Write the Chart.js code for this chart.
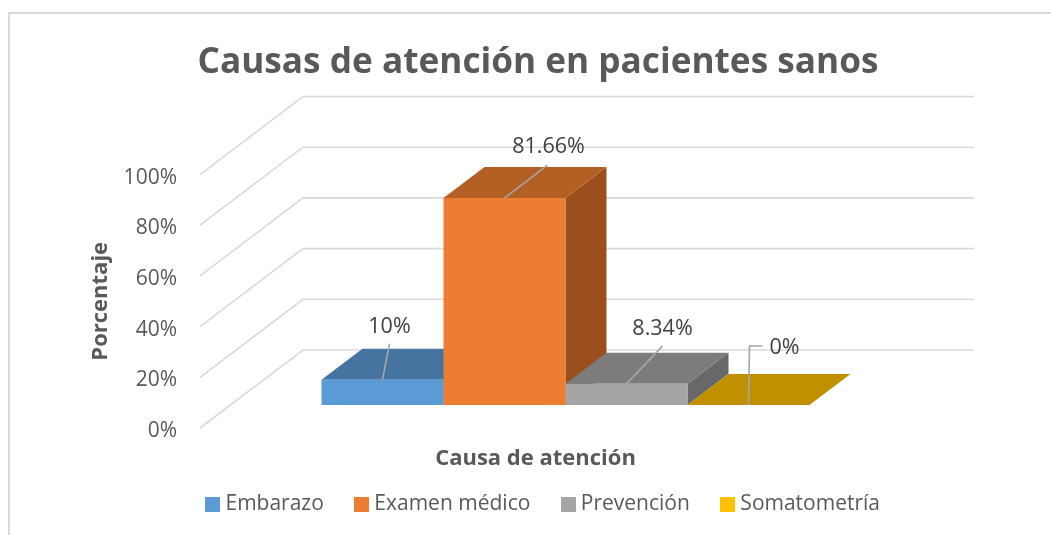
<!DOCTYPE html>
<html>
<head>
<meta charset="utf-8">
<script src="https://cdn.jsdelivr.net/npm/chart.js@4"></script>
<style>
html,body{margin:0;padding:0;background:#fff;overflow:hidden}
#wrap{position:relative;width:1051px;height:535px}
#frame{position:absolute;left:8px;top:12px;right:0;bottom:0;border-left:2px solid #d9d9d9;border-top:2px solid #d9d9d9;box-sizing:border-box;pointer-events:none}
canvas{position:absolute;left:0;top:0}
</style>
</head>
<body>
<div id="wrap"><div id="frame"></div><canvas id="c" width="1051" height="535"></canvas></div>
<script>
const categories = ['Causa de atención'];
const seriesNames = ['Embarazo', 'Examen médico', 'Prevención', 'Somatometría'];
const seriesValues = [10, 81.66, 8.34, 0];
const valueLabels = ['10%', '81.66%', '8.34%', '0%'];
const frontColors = ['#5B9BD5', '#ED7D31', '#A5A5A5', '#FFC000'];
const topColors = ['#44749F', '#B45F24', '#7C7C7C', '#C09000'];
const sideColors = ['#3A6186', '#9A4F1C', '#686868', '#A67C00'];
const yTicks = [0, 20, 40, 60, 80, 100];

const FONT = '"Open Sans", sans-serif';
const TEXT = '#595959';
const wall = {dx: 103, dy: -78};
const plane = {dx: 30, dy: -23};
const bar3d = {dx: 41, dy: -31};
// leader line bends and label centres, relative to the top-front-centre of each bar
const leaders = [
  {pts: [[7, -36]], label: [7, -53]},
  {pts: [[43, -33]], label: [44, -51]},
  {pts: [[36, -38]], label: [36, -55]},
  {pts: [[1, -59], [14, -59]], label: [36, -57]}
];

function poly(ctx, pts, color) {
  ctx.beginPath();
  pts.forEach((p, i) => i ? ctx.lineTo(p[0], p[1]) : ctx.moveTo(p[0], p[1]));
  ctx.closePath();
  ctx.fillStyle = color;
  ctx.fill();
}

function swatch(color) {
  const c = document.createElement('canvas');
  c.width = 15; c.height = 15;
  const g = c.getContext('2d');
  g.fillStyle = color;
  g.fillRect(0, 0, 15, 15);
  return c;
}

const scene3d = {
  id: 'scene3d',
  afterLayout(chart) {
    chart.legend.left += 15;
  },
  beforeDatasetsDraw(chart) {
    const {ctx, scales: {y}, chartArea: a} = chart;
    ctx.save();
    ctx.strokeStyle = '#D9D9D9';
    ctx.lineWidth = 1.6;
    yTicks.forEach(v => {
      const p = y.getPixelForValue(v);
      ctx.beginPath();
      ctx.moveTo(a.left, p);
      ctx.lineTo(a.left + wall.dx, p + wall.dy);
      ctx.lineTo(a.right + wall.dx, p + wall.dy);
      ctx.stroke();
    });
    ctx.restore();
    ctx.save();
    ctx.translate(plane.dx, plane.dy);
    for (let i = 0; i < seriesValues.length; i++) {
      const el = chart.getDatasetMeta(i).data[0];
      const l = el.x - el.width / 2, r = el.x + el.width / 2, t = el.y, b = el.base;
      const d = bar3d;
      if (b > t) poly(ctx, [[r, t], [r + d.dx, t + d.dy], [r + d.dx, b + d.dy], [r, b]], sideColors[i]);
      poly(ctx, [[l, t], [r, t], [r + d.dx, t + d.dy], [l + d.dx, t + d.dy]], topColors[i]);
    }
  },
  afterDatasetsDraw(chart) {
    const {ctx} = chart;
    ctx.restore();
    ctx.save();
    seriesValues.forEach((v, i) => {
      const el = chart.getDatasetMeta(i).data[0];
      const x0 = el.x + plane.dx, y0 = el.y + plane.dy;
      const L = leaders[i];
      ctx.strokeStyle = '#A6A6A6';
      ctx.lineWidth = 1.6;
      ctx.beginPath();
      ctx.moveTo(x0, y0);
      L.pts.forEach(p => ctx.lineTo(x0 + p[0], y0 + p[1]));
      ctx.stroke();
      ctx.fillStyle = '#404040';
      ctx.font = '21.5px ' + FONT;
      ctx.textAlign = 'center';
      ctx.textBaseline = 'middle';
      ctx.fillText(valueLabels[i], x0 + L.label[0], y0 + L.label[1]);
    });
    ctx.restore();
  }
};

new Chart(document.getElementById('c'), {
  type: 'bar',
  data: {
    labels: categories,
    datasets: seriesNames.map((n, i) => ({
      label: n,
      data: [seriesValues[i]],
      backgroundColor: frontColors[i],
      borderWidth: 0,
      clip: false
    }))
  },
  plugins: [scene3d],
  options: {
    responsive: false,
    animation: false,
    layout: {padding: {left: 25, right: 0, top: 0, bottom: 10}},
    datasets: {bar: {categoryPercentage: 0.7273, barPercentage: 1}},
    plugins: {
      tooltip: {enabled: false},
      title: {
        display: true,
        text: 'Causas de atención en pacientes sanos',
        color: TEXT,
        font: {family: FONT, size: 35.2, weight: 'bold', lineHeight: 1.2},
        padding: {top: 42, bottom: 90.3}
      },
      legend: {
        display: true,
        position: 'bottom',
        labels: {
          color: TEXT,
          font: {family: FONT, size: 21},
          usePointStyle: true,
          pointStyleWidth: 4,
          padding: 36,
          generateLabels(chart) {
            return Chart.defaults.plugins.legend.labels.generateLabels(chart).map((it, i) => {
              it.pointStyle = swatch(frontColors[i]);
              return it;
            });
          }
        }
      }
    },
    scales: {
      x: {
        grid: {display: false, drawTicks: false},
        border: {display: false},
        ticks: {display: false},
        title: {display: true, text: 'Causa de atención', color: TEXT,
          font: {family: FONT, size: 22, weight: 'bold'}, padding: {top: 0, bottom: -14}},
        afterFit(s) { s.height = 30; }
      },
      y: {
        min: 0, max: 100,
        grid: {display: false, drawTicks: false},
        border: {display: false},
        ticks: {stepSize: 20, color: TEXT, font: {family: FONT, size: 21}, padding: 23, labelOffset: 3,
          callback: v => v + '%'},
        title: {display: true, text: 'Porcentaje', color: TEXT,
          font: {family: FONT, size: 22, weight: 'bold'}, padding: {top: 63, bottom: 0}},
        afterFit(s) { s.width = 175; }
      },
      yPad: {
        position: 'right',
        display: true,
        grid: {display: false, drawTicks: false},
        border: {display: false},
        ticks: {display: false},
        afterFit(s) { s.width = 180; }
      }
    }
  }
});
</script>
</body>
</html>
